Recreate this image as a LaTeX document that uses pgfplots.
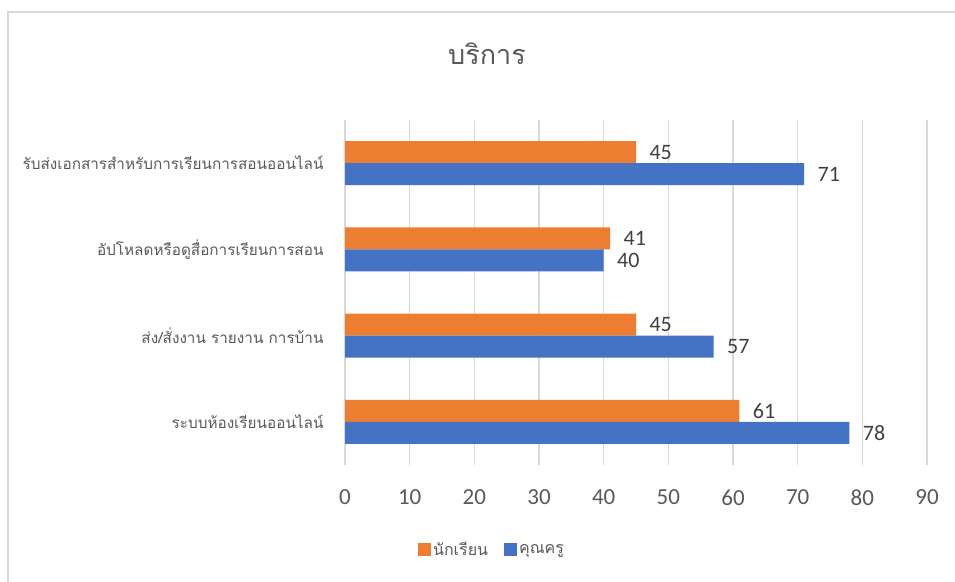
\documentclass[border=0pt]{standalone}
\usepackage{pgfplots}
\pgfplotsset{compat=1.18}
\usepackage{fontspec}
\setmainfont{Carlito}
\newfontfamily\thaifont[Script=Thai]{Loma}
\definecolor{cOrange}{HTML}{ED7D31}
\definecolor{cBlue}{HTML}{4472C4}
\definecolor{cGrid}{HTML}{D9D9D9}
\definecolor{cText}{HTML}{595959}
\definecolor{cLabel}{HTML}{404040}
\begin{document}
\begin{tikzpicture}[x=1bp,y=1bp]
\path[use as bounding box] (0,0) rectangle (955,582);
\draw[cGrid, line width=1.5bp] (8,-2) -- (8,570) -- (957,570);
\begin{axis}[
  at={(345bp,117bp)}, anchor=south west,
  width=582bp, height=345bp, scale only axis,
  xbar, bar width=0.255,
  xmin=0, xmax=90, ymin=-0.5, ymax=3.5,
  xtick={0,10,...,90},
  ytick={0,1,2,3},
  yticklabels={ระบบห้องเรียนออนไลน์, ส่ง/สั่งงาน รายงาน การบ้าน, อัปโหลดหรือดูสื่อการเรียนการสอน, รับส่งเอกสารสำหรับการเรียนการสอนออนไลน์},
  axis line style={draw=none},
  major tick length=0pt,
  xmajorgrids, grid style={cGrid, line width=1.5bp},
  /pgf/number format/assume math mode=true,
  xticklabel style={font=\fontsize{23bp}{26bp}\selectfont, color=cText, yshift=-21bp},
  yticklabel style={font=\thaifont\fontsize{15.3bp}{18bp}\selectfont, color=cText, anchor=east, xshift=-18bp},
  title={\thaifont บริการ},
  title style={at={(0.244,1.174)}, anchor=center, font=\fontsize{27bp}{30bp}\selectfont, color=cText},
  nodes near coords,
  every node near coord/.append style={anchor=west, xshift=10bp, font=\fontsize{22bp}{24bp}\selectfont, color=cLabel},
  legend columns=2,
  legend style={at={(0.2526,-0.246)}, anchor=center, draw=none, fill=none,
    font=\thaifont\fontsize{16bp}{18bp}\selectfont, text=cText,
    /tikz/every even column/.append style={column sep=14bp}},
  legend image code/.code={\fill[#1] (0bp,-6.5bp) rectangle (13bp,6.5bp);},
]
\addplot[fill=cOrange, draw=none, bar shift=0.1275] coordinates {(61,0) (45,1) (41,2) (45,3)};
\addplot[fill=cBlue, draw=none, bar shift=-0.1275] coordinates {(78,0) (57,1) (40,2) (71,3)};
\legend{นักเรียน, คุณครู}
\end{axis}
\end{tikzpicture}
\end{document}
